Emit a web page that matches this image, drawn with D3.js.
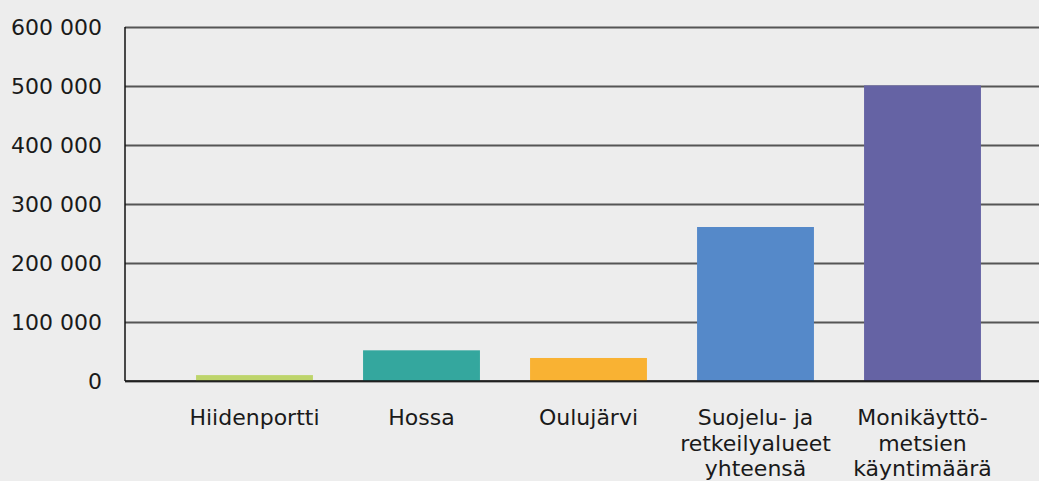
<!DOCTYPE html>
<html>
<head>
<meta charset="utf-8">
<script src="https://cdn.jsdelivr.net/npm/d3@7"></script>
<style>
  html, body { margin: 0; padding: 0; background: #ededed; }
  svg { display: block; }
  text { font-family: "DejaVu Sans", sans-serif; fill: #1a1a1a; }
</style>
</head>
<body>
<script>
const categories = ['Hiidenportti', 'Hossa', 'Oulujärvi', 'Suojelu- ja retkeilyalueet yhteensä', 'Monikäyttömetsien käyntimäärä'];
const labelLines = [['Hiidenportti'], ['Hossa'], ['Oulujärvi'], ['Suojelu- ja', 'retkeilyalueet', 'yhteensä'], ['Monikäyttö-', 'metsien', 'käyntimäärä']];
const visits = [10000, 52000, 39000, 261000, 501000];
const barColors = ['#bdd46b', '#34a79e', '#f9b233', '#5589c9', '#6563a4'];
const yTicks = [0, 100000, 200000, 300000, 400000, 500000, 600000];

const w = 1039;
const h = 481;
const left = 125;

const svg = d3.select('body')
              .append('svg')
              .attr('width', w)
              .attr('height', h)

const y = d3.scaleLinear()
            .domain([0, 600000])
            .range([381, 27])

const x = d3.scaleBand()
            .domain(categories)
            .range([171, 1006])
            .paddingInner(0.3)
            .paddingOuter(0.15)

const fmt = v => d3.format(',')(v).replace(/,/g, ' ')

// gridlines + tick labels
const yAxis = d3.axisLeft(y)
                .tickValues(yTicks)
                .tickSize(-(w - left))
                .tickFormat(fmt)
const gy = svg.append('g')
              .attr('transform', `translate(${left},0)`)
              .call(yAxis)
gy.select('.domain').remove()
gy.selectAll('.tick line')
  .attr('stroke', '#555')
  .attr('stroke-width', 2)
gy.selectAll('.tick text')
  .attr('x', -23)
  .attr('dy', '0.33em')
  .style('font-size', '22px')

// bars
svg.append('g')
   .selectAll('rect')
   .data(visits)
   .enter()
   .append('rect')
   .attr('x', (d, i) => x(categories[i]))
   .attr('y', d => y(d))
   .attr('width', x.bandwidth())
   .attr('height', d => y(0) - y(d))
   .attr('fill', (d, i) => barColors[i])

// axis lines
svg.append('line')
   .attr('x1', left).attr('x2', left)
   .attr('y1', y(600000)).attr('y2', y(0))
   .attr('stroke', '#111')
   .attr('stroke-width', 1.5)
svg.append('line')
   .attr('x1', left).attr('x2', w)
   .attr('y1', y(0)).attr('y2', y(0))
   .attr('stroke', '#111')
   .attr('stroke-width', 1.5)

// category labels
const xl = svg.append('g')
              .selectAll('text')
              .data(categories)
              .enter()
              .append('text')
              .attr('text-anchor', 'middle')
              .attr('y', 425)
              .style('font-size', '22px')
xl.each(function (c, i) {
  labelLines[i].forEach((ln, j) => {
    d3.select(this).append('tspan')
      .attr('x', x(c) + x.bandwidth() / 2)
      .attr('dy', j === 0 ? 0 : 25.5)
      .text(ln)
  })
})
</script>
</body>
</html>
